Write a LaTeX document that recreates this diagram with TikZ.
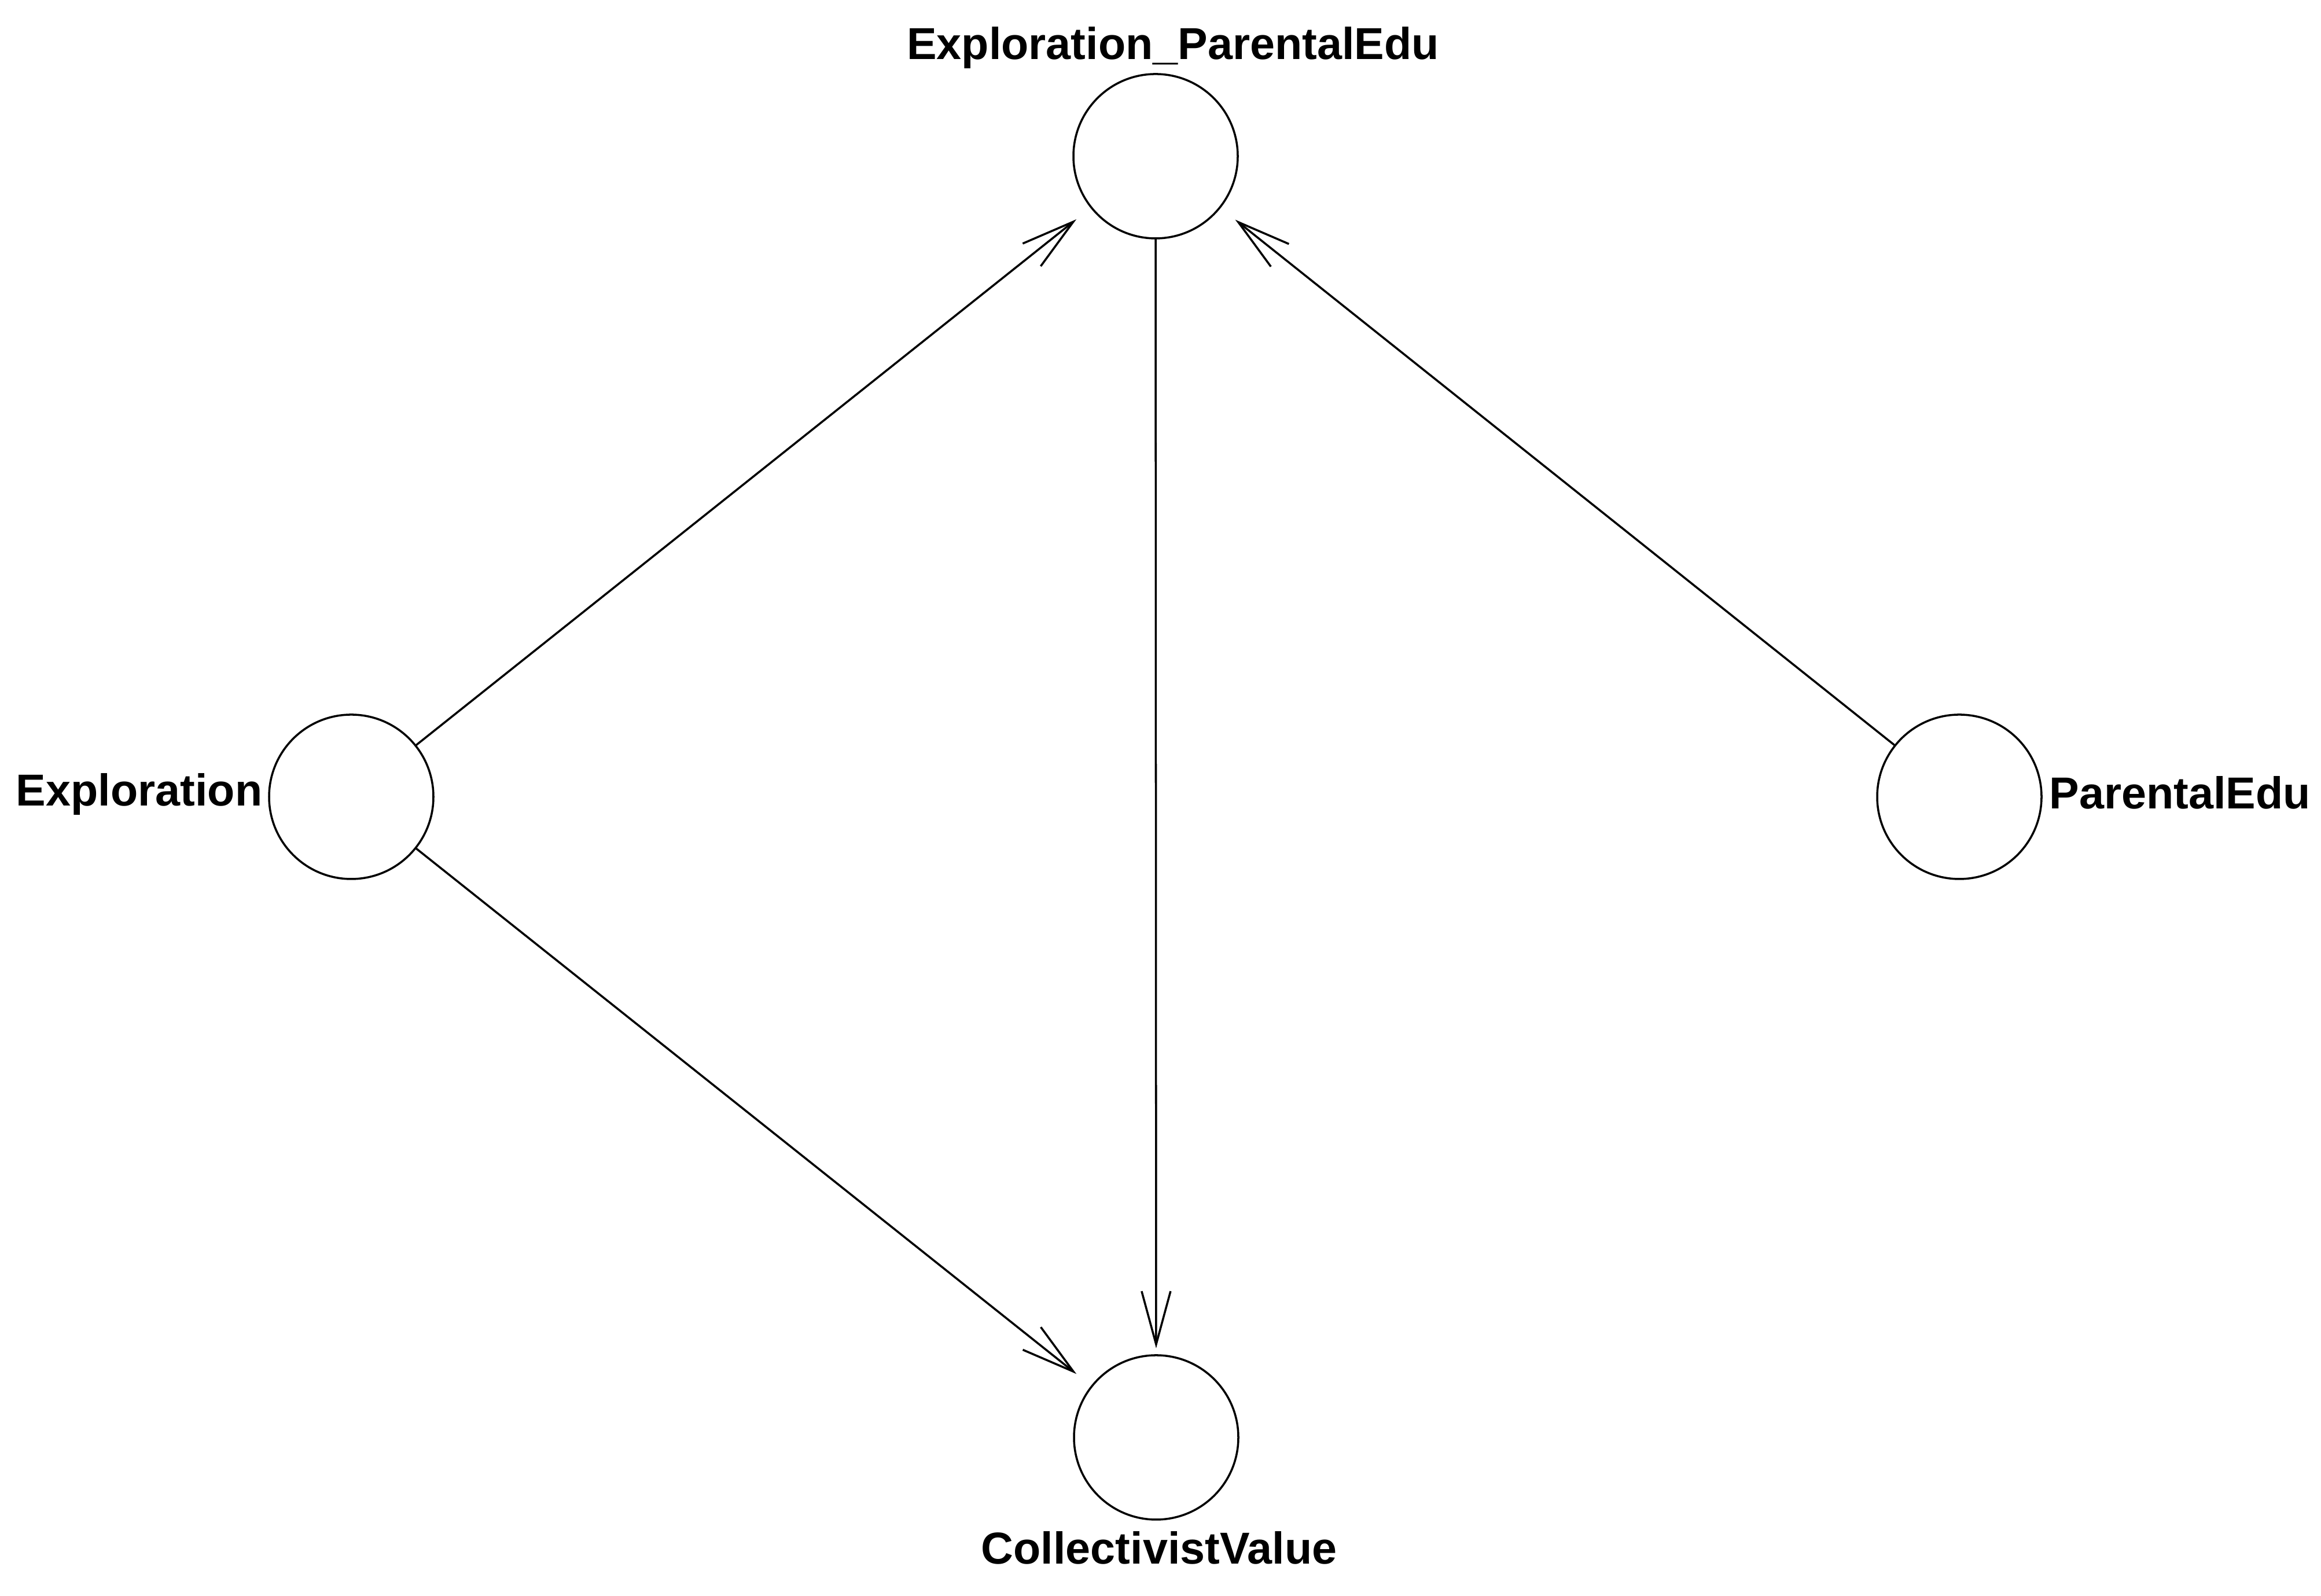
\documentclass[tikz,border=0pt]{standalone}
\usepackage{fontspec}
\setmainfont{Liberation Sans}
\usetikzlibrary{arrows.meta}

\begin{document}
\begin{tikzpicture}[var/.style={circle, draw, minimum size=2.84cm, inner sep=0pt, outer sep=0pt, line width=1pt},
  lab/.style={font=\bfseries\fontsize{22}{26}\selectfont, inner sep=0pt},
  arr/.style={-{Straight Barb[length=0.92cm,width=0.5cm,line width=1pt]}, line width=1pt}]

\useasboundingbox (0,0) rectangle (40.11,27.58);

\node[var] (ep) at (19.97,24.88) {};
\node[var] (expl) at (6.07,13.81) {};
\node[var] (pedu) at (33.86,13.81) {};
\node[var] (cv) at (19.98,2.74) {};

\node[lab, anchor=base] (ep-lab) at (20.27,26.55) {Exploration\_ParentalEdu};
\node[lab, anchor=base east] (expl-lab) at (4.54,13.65) {Exploration};
\node[lab, anchor=base west] (pedu-lab) at (35.41,13.60) {ParentalEdu};
\node[lab, anchor=base] (cv-lab) at (20.03,0.55) {CollectivistValue};

\draw[arr, shorten >=0.33cm] (expl) -- (ep);
\draw[arr, shorten >=0.34cm] (pedu) -- (ep);
\draw[arr, shorten >=0.34cm] (expl) -- (cv);
\draw[arr, shorten >=0.12cm] (ep) -- (cv);
\end{tikzpicture}
\end{document}
